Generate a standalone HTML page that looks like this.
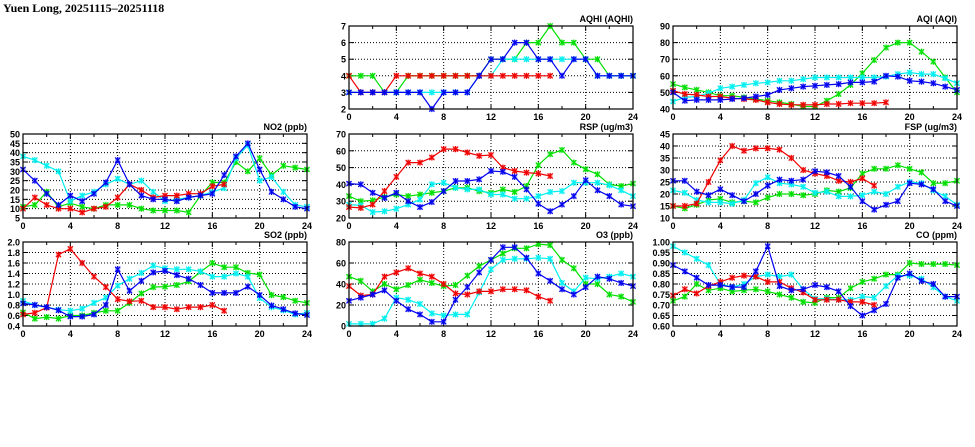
<!DOCTYPE html>
<html><head><meta charset="utf-8"><style>
html,body{margin:0;padding:0;background:#fff;}
svg{display:block;}
text{font-family:"Liberation Sans",sans-serif;font-weight:bold;font-size:9px;fill:#000;}
</style></head><body>
<svg id="s" width="975" height="447" xmlns="http://www.w3.org/2000/svg">
<rect width="975" height="447" fill="#fff"/>
<text x="3" y="12" style="font-family:'Liberation Serif',serif;font-size:12px;">Yuen Long, 20251115–20251118</text>
</svg>
<script>
const S=document.getElementById('s');const NS='http://www.w3.org/2000/svg';
function el(t,a,txt){const e=document.createElementNS(NS,t);for(const k in a)e.setAttribute(k,a[k]);if(txt!==undefined)e.textContent=txt;S.appendChild(e);return e;}
const C={r:'#f00000',g:'#00e000',c:'#00f0f0',b:'#0000f0'};
const P=[
{t:'AQHI (AQHI)',x:349,y:26,h:83,min:2,max:7,st:1,d:0,
 g:[4,4,4,3,3,4,4,4,4,4,4,4,5,5,5,6,6,7,6,6,5,5,4,4,4],
 c:[3,3,3,3,3,3,3,3,3,3,3,4,4,5,5,5,5,5,5,5,5,4,4,4,4],
 r:[4,3,3,3,4,4,4,4,4,4,4,4,4,4,4,4,4,4],
 b:[3,3,3,3,3,3,3,2,3,3,3,4,5,5,6,6,5,5,4,5,5,4,4,4,4]},
{t:'AQI (AQI)',x:673,y:26,h:83,min:40,max:90,st:10,d:0,
 g:[55,53,51.5,50,48,48,47,46,45,44,43,41.5,41.5,45,49,54.5,61.5,69.5,77,80,80,74.5,68.5,59,50],
 c:[44.5,47,47.5,49.5,52.5,53.5,54.5,55.5,56,57,57,58,59,59,59,59,59,59,59.5,61,62,61,61,58.5,55.5],
 r:[51,49,48.5,47.5,47.5,46.5,46,45.5,44,43,42.5,42.5,42.5,43,43,43.5,43.5,43.5,44],
 b:[50,45,45.5,45.5,45.5,46,46.5,47.5,48.5,51.5,52.5,53.5,54,54.5,55,56,56,56.5,60,59.5,57,56.5,55.5,53.5,51.5]},
{t:'NO2 (ppb)',x:23,y:134,h:84,min:5,max:50,st:5,d:0,
 g:[11,12,19,11,13,11,10,12,12,12,10,9,9,9,8,17,24,24,35,30,37,28,33,32,31],
 c:[38,36,33,30,14,17,19,23,26,23,25,19,14,15,16,17,19,21,37,44,25,27,19,12,11],
 r:[10,16,12,10,10,8,10,11,16,23,20,16,17,17,18,18,22,23],
 b:[31,25,18,12,17,14,18,24,36,23,17,15,15,14,16,17,18,28,38,45,31,19,15,11,10]},
{t:'RSP (ug/m3)',x:349,y:134,h:84,min:20,max:70,st:10,d:0,
 g:[33,30,30.5,32.5,34,33,34,35,36,38,38,36,35,37,35.5,39,51.5,58,60.5,53,49,46,40,39,40.5],
 c:[28,27.5,23.5,24,25.5,28,31,40,41,38,37,37,34,34,31.5,31.5,33,35.5,36,41,41,41,39.5,36.5,33],
 r:[26.5,26,28,36,44.5,53,53,56,61,61,59,57,57.5,50,48,47,46.5,45],
 b:[40.5,40,35,32,35,30,26.5,29.5,36,42,42,43,48,47.5,44.5,37,28.5,24,28,33,42.5,36.5,33,28,27]},
{t:'FSP (ug/m3)',x:673,y:134,h:84,min:10,max:45,st:5,d:0,
 g:[15,14,15.5,17.5,18,16.5,17,16.5,18.5,20,20,19.5,20,21.5,21,22.5,28.5,30.5,30.5,32,30.5,29,24.5,24.5,25.5],
 c:[21.5,20.5,17.5,16.5,16.5,16,17.5,24.5,27,24.5,24,23,20.5,21,19,19,19.5,21,20,23,25,24.5,21.5,19,15.5],
 r:[15,15,16,25,34,40,38,39,39,38.5,35,30,28.5,27.5,25.5,25,26.5,23.5],
 b:[25.5,25.5,21,19.5,22,19.5,17,20,23.5,26,25.5,26,29.5,29,27.5,23,17,13.5,15.5,17,24.5,24,22,17,15]},
{t:'SO2 (ppb)',x:23,y:242,h:84,min:0.4,max:2.0,st:0.2,d:1,
 g:[.66,.54,.57,.54,.6,.6,.65,.69,.69,.84,1.02,1.14,1.15,1.18,1.25,1.43,1.6,1.52,1.52,1.41,1.38,.99,.95,.88,.84],
 c:[.88,.8,.76,.71,.69,.73,.84,.94,1.17,1.3,1.41,1.55,1.5,1.48,1.48,1.44,1.34,1.34,1.4,1.34,.93,.76,.7,.62,.65],
 r:[.62,.65,.75,1.76,1.87,1.6,1.34,1.14,.91,.87,.88,.76,.76,.72,.76,.76,.8,.69],
 b:[.83,.8,.76,.7,.58,.58,.62,.8,1.48,1.07,1.26,1.42,1.45,1.37,1.3,1.18,1.03,1.03,1.03,1.15,.99,.79,.72,.64,.61]},
{t:'O3 (ppb)',x:349,y:242,h:84,min:0,max:80,st:20,d:0,
 g:[47,43,33,40,35,39,44,41,38,39,48,57,63,69,74,74,78,77,63,55,40,40,30,28,23],
 c:[2,2,2,7,27,25,21,12,10,11,11,32,54,63,64,64,65,64,41,33,46,45,47,50,47],
 r:[38,29,30,47,51,55,50,47,40,31,30,33,33,35,35,34,28,24],
 b:[24,27,30,34,24,16,11,4,4,25,37,51,63,75,75,65,50,43,35,30,37,47,45,41,38]},
{t:'CO (ppm)',x:673,y:242,h:84,min:0.6,max:1.0,st:0.05,d:2,
 g:[.72,.74,.80,.77,.78,.765,.77,.775,.765,.75,.735,.715,.71,.735,.735,.78,.81,.825,.845,.845,.90,.895,.895,.895,.89],
 c:[.98,.95,.92,.89,.80,.785,.80,.835,.845,.835,.845,.775,.73,.73,.725,.725,.74,.735,.79,.84,.84,.825,.785,.74,.72],
 r:[.745,.775,.755,.79,.81,.83,.84,.835,.81,.81,.78,.76,.725,.725,.725,.715,.715,.70],
 b:[.89,.86,.83,.795,.795,.785,.785,.86,.98,.79,.77,.775,.795,.785,.765,.695,.65,.675,.705,.83,.85,.815,.80,.74,.74]}
];
const W=284;
for(const p of P){
 const X=h=>p.x+h*W/24, Y=v=>p.y+p.h-(v-p.min)/(p.max-p.min)*p.h;
 const n=Math.round((p.max-p.min)/p.st);
 for(let i=1;i<n;i++){const y=Y(p.min+i*p.st);el('line',{x1:p.x,x2:p.x+W,y1:y,y2:y,stroke:'#000','stroke-width':1,'stroke-dasharray':'1,2'});}
 for(let h=4;h<24;h+=4){el('line',{x1:X(h),x2:X(h),y1:p.y,y2:p.y+p.h,stroke:'#000','stroke-width':1,'stroke-dasharray':'1,2'});}
 for(let h=2;h<24;h+=2){const L=(h%4==0)?5:3;el('line',{x1:X(h),x2:X(h),y1:p.y+p.h,y2:p.y+p.h-L,stroke:'#000','stroke-width':1});el('line',{x1:X(h),x2:X(h),y1:p.y,y2:p.y+L,stroke:'#000','stroke-width':1});}
 for(let i=1;i<n;i++){const y=Y(p.min+i*p.st);el('line',{x1:p.x,x2:p.x+5,y1:y,y2:y,stroke:'#000','stroke-width':1});el('line',{x1:p.x+W-5,x2:p.x+W,y1:y,y2:y,stroke:'#000','stroke-width':1});}
 for(let i=0;i<=n;i++){const v=p.min+i*p.st;el('text',{x:p.x-3,y:Y(v)+3.5,'text-anchor':'end'},v.toFixed(p.d));}
 for(let h=0;h<=24;h+=4){el('text',{x:X(h),y:p.y+p.h+11,'text-anchor':'middle'},String(h));}
 el('text',{x:p.x+W,y:p.y-4,'text-anchor':'end'},p.t);
 for(const k of ['g','c','r','b']){
  const d=p[k];const pts=d.map((v,i)=>X(i).toFixed(1)+','+Y(v).toFixed(1)).join(' ');
  el('polyline',{points:pts,fill:'none',stroke:C[k],'stroke-width':1.2});
  d.forEach((v,i)=>{const x=X(i),y=Y(v),s=2.6;
   el('rect',{x:x-s,y:y-s,width:2*s,height:2*s,fill:C[k],opacity:0.35});
   el('path',{d:`M${x-s},${y-s}L${x+s},${y+s}M${x-s},${y+s}L${x+s},${y-s}M${x},${y-s-0.5}L${x},${y+s+0.5}`,stroke:C[k],'stroke-width':1.1,fill:'none'});});
 }
 el('rect',{x:p.x,y:p.y,width:W,height:p.h,fill:'none',stroke:'#000','stroke-width':1.2});
}
</script>
</body></html>
